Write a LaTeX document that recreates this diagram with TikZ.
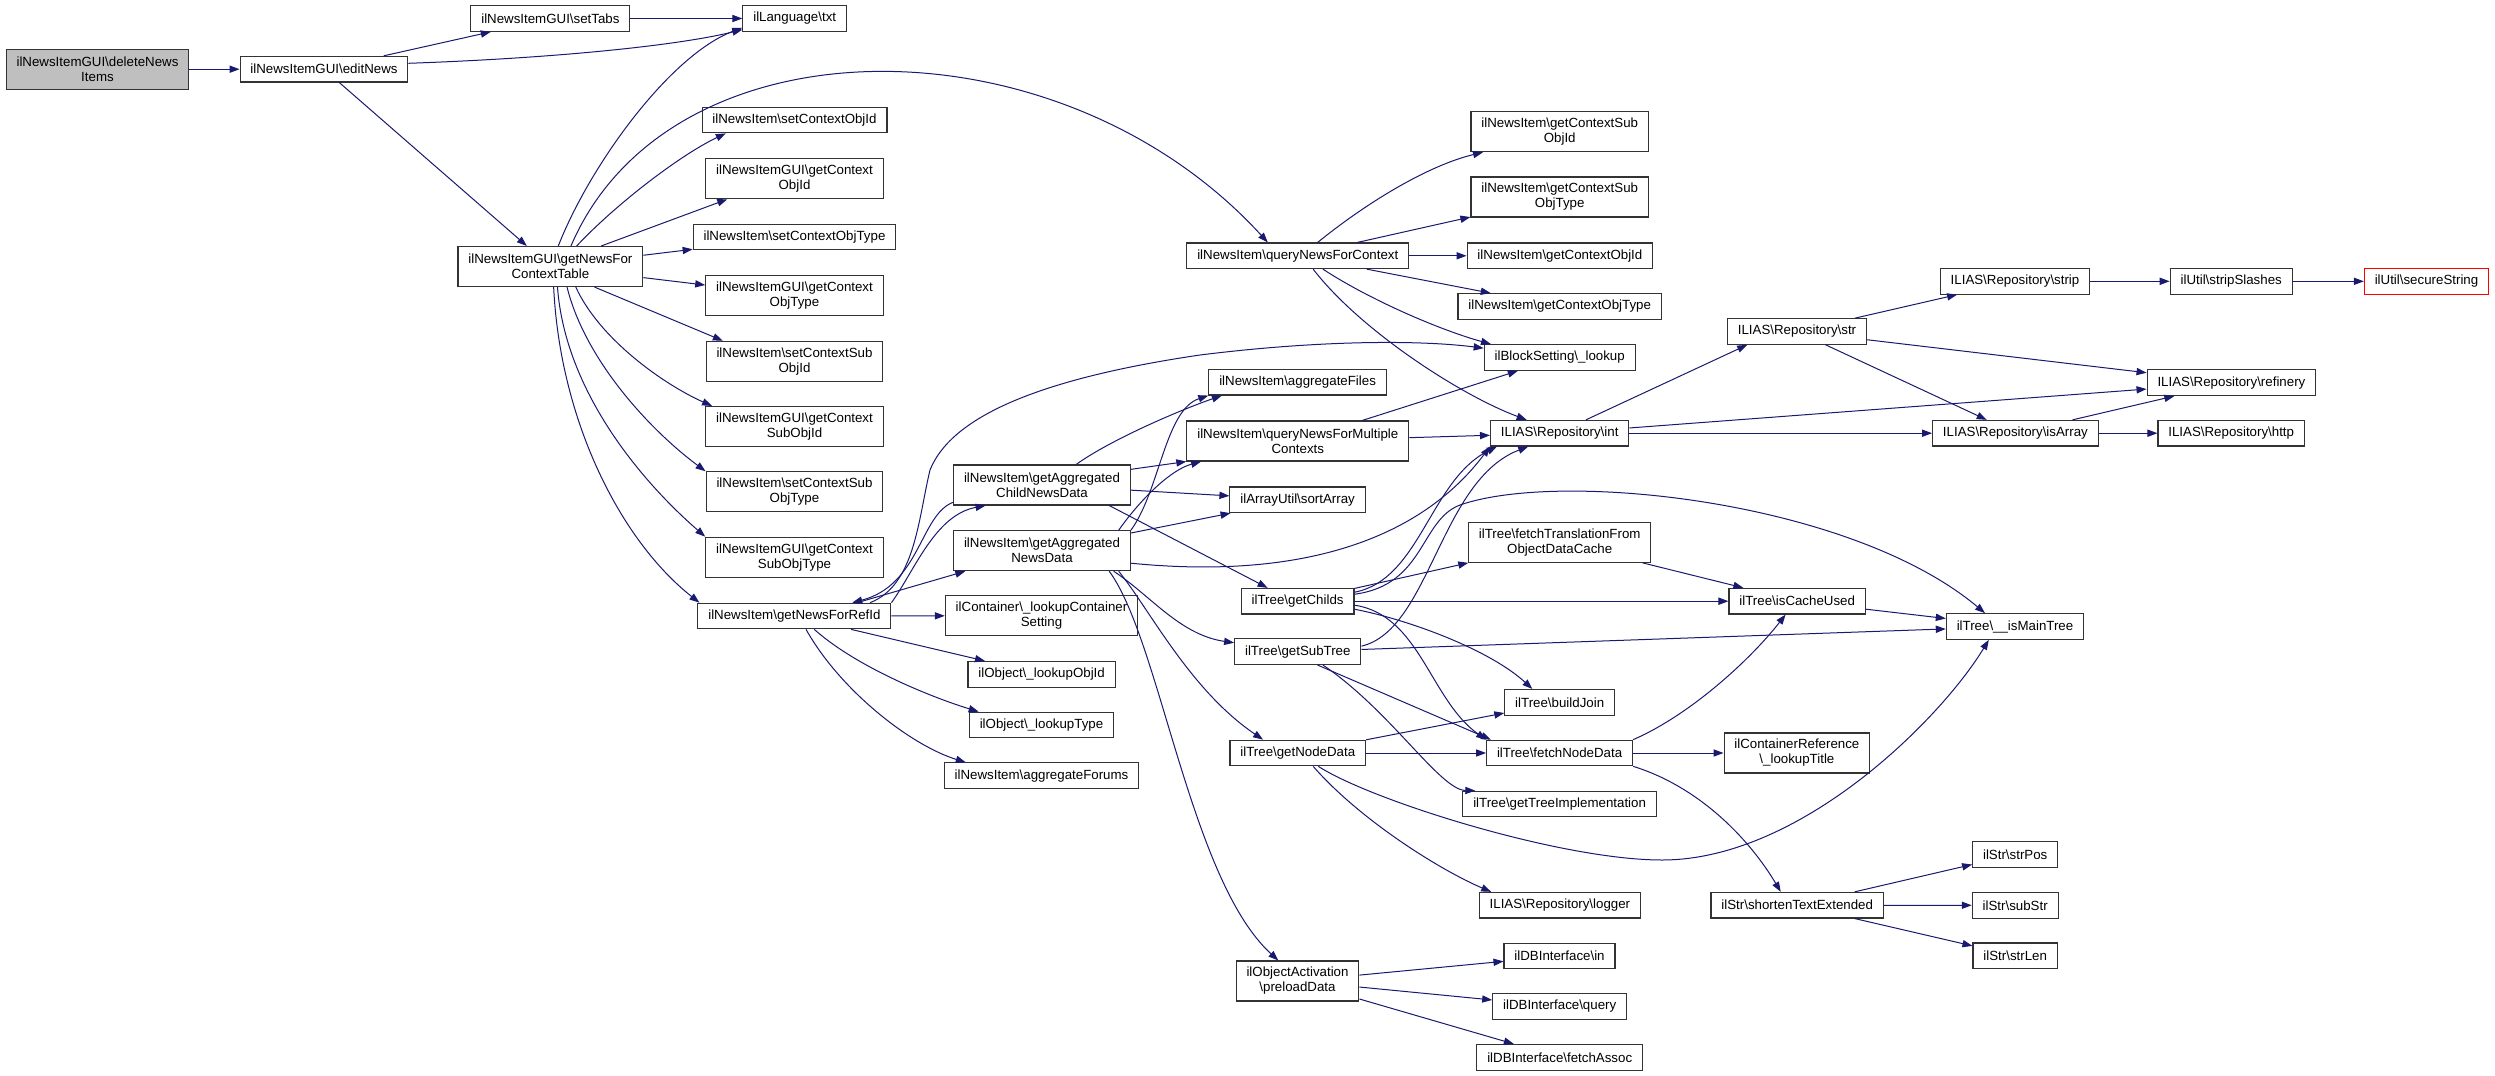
\documentclass[tikz,border=0pt]{standalone}
\usepackage{fontspec}
\setmainfont{Liberation Sans}
\usetikzlibrary{arrows.meta}
\definecolor{edgeblue}{RGB}{25,25,112}
\newcommand{\bks}{\textbackslash}
\tikzset{
	fnbox/.style={draw=black!80, fill=white, line width=0.55pt, inner xsep=5.2pt, inner ysep=0pt, minimum height=12.8pt, align=center, font=\fontsize{6.65}{7.5}\selectfont},
	fnbox2/.style={fnbox, minimum height=20pt},
	callto/.style={draw=edgeblue, line width=0.5pt, -{Triangle[length=5pt,width=3.6pt]}}
}

\begin{document}
\begin{tikzpicture}[x=0.5pt, y=-0.5pt]
			%%%%% START %%%%%
			\fill[white] (0,0) rectangle (2495,1076);
			\useasboundingbox (0,0) rectangle (2495,1076);
			
			\node[fnbox2, fill=black!25] (delNews) at (97.5,69.2) {ilNewsItemGUI\bks deleteNews\\Items};
			\node[fnbox] (editNews) at (324,69.2) {ilNewsItemGUI\bks editNews};
			
			\node[fnbox] (setTabs) at (550.4,18.5) {ilNewsItemGUI\bks setTabs};
			\node[fnbox2] (ctxTable) at (550.4,266.5) {ilNewsItemGUI\bks getNewsFor\\ContextTable};
			
			\node[fnbox] (txt) at (794.7,18.5) {ilLanguage\bks txt};
			\node[fnbox] (setObjId) at (794.5,120) {ilNewsItem\bks setContextObjId};
			\node[fnbox2] (guiObjId) at (794.5,178.7) {ilNewsItemGUI\bks getContext\\ObjId};
			\node[fnbox] (setObjType) at (794.5,237) {ilNewsItem\bks setContextObjType};
			\node[fnbox2] (guiObjType) at (794.5,295.7) {ilNewsItemGUI\bks getContext\\ObjType};
			\node[fnbox2] (setSubId) at (794.5,361.3) {ilNewsItem\bks setContextSub\\ObjId};
			\node[fnbox2] (guiSubId) at (794.5,426.5) {ilNewsItemGUI\bks getContext\\SubObjId};
			\node[fnbox2] (setSubType) at (794.5,491.8) {ilNewsItem\bks setContextSub\\ObjType};
			\node[fnbox2] (guiSubType) at (794.5,557.2) {ilNewsItemGUI\bks getContext\\SubObjType};
			\node[fnbox] (forRefId) at (794.4,616) {ilNewsItem\bks getNewsForRefId};
			
			\node[fnbox2] (aggChild) at (1042,485) {ilNewsItem\bks getAggregated\\ChildNewsData};
			\node[fnbox2] (aggNews) at (1042,550.7) {ilNewsItem\bks getAggregated\\NewsData};
			\node[fnbox2] (contSetting) at (1041.5,615.7) {ilContainer\bks\_lookupContainer\\Setting};
			\node[fnbox] (lookObjId) at (1041.6,674.3) {ilObject\bks\_lookupObjId};
			\node[fnbox] (lookType) at (1041.5,725) {ilObject\bks\_lookupType};
			\node[fnbox] (aggForums) at (1041.5,775.7) {ilNewsItem\bks aggregateForums};
			
			\node[fnbox] (queryCtx) at (1297.8,255.8) {ilNewsItem\bks queryNewsForContext};
			\node[fnbox] (aggFiles) at (1297.6,382.2) {ilNewsItem\bks aggregateFiles};
			\node[fnbox2] (queryMulti) at (1297.8,441) {ilNewsItem\bks queryNewsForMultiple\\Contexts};
			\node[fnbox] (sortArr) at (1297.6,499.8) {ilArrayUtil\bks sortArray};
			\node[fnbox] (getChilds) at (1297.6,601.2) {ilTree\bks getChilds};
			\node[fnbox] (getSubTree) at (1297.8,651.7) {ilTree\bks getSubTree};
			\node[fnbox] (getNodeData) at (1297.8,753) {ilTree\bks getNodeData};
			\node[fnbox2] (preload) at (1297.5,981) {ilObjectActivation\\\bks preloadData};
			
			\node[fnbox2] (subId) at (1559.7,131.7) {ilNewsItem\bks getContextSub\\ObjId};
			\node[fnbox2] (subType) at (1559.7,197) {ilNewsItem\bks getContextSub\\ObjType};
			\node[fnbox] (objId) at (1559.9,255.8) {ilNewsItem\bks getContextObjId};
			\node[fnbox] (objType) at (1559.7,306.5) {ilNewsItem\bks getContextObjType};
			\node[fnbox] (blockLook) at (1559.7,357.5) {ilBlockSetting\bks\_lookup};
			\node[fnbox] (repoInt) at (1559.7,433.2) {ILIAS\bks Repository\bks int};
			\node[fnbox2] (fetchTrans) at (1559.7,542.3) {ilTree\bks fetchTranslationFrom\\ObjectDataCache};
			\node[fnbox] (buildJoin) at (1559.7,702.3) {ilTree\bks buildJoin};
			\node[fnbox] (fetchNode) at (1559.6,753) {ilTree\bks fetchNodeData};
			\node[fnbox] (treeImpl) at (1559.6,804) {ilTree\bks getTreeImplementation};
			\node[fnbox] (logger) at (1559.9,905.2) {ILIAS\bks Repository\bks logger};
			\node[fnbox] (dbIn) at (1559.5,956) {ilDBInterface\bks in};
			\node[fnbox] (dbQuery) at (1559.7,1006.5) {ilDBInterface\bks query};
			\node[fnbox] (dbFetch) at (1559.7,1057.3) {ilDBInterface\bks fetchAssoc};
			
			\node[fnbox] (repoStr) at (1797,331.5) {ILIAS\bks Repository\bks str};
			\node[fnbox] (cacheUsed) at (1797.2,601.2) {ilTree\bks isCacheUsed};
			\node[fnbox2] (lookTitle) at (1796.9,753) {ilContainerReference\\\bks\_lookupTitle};
			\node[fnbox] (shorten) at (1797.2,905.2) {ilStr\bks shortenTextExtended};
			
			\node[fnbox] (repoStrip) at (2015,281.3) {ILIAS\bks Repository\bks strip};
			\node[fnbox] (isArray) at (2015.4,433.2) {ILIAS\bks Repository\bks isArray};
			\node[fnbox] (mainTree) at (2015,626.5) {ilTree\bks\_\_isMainTree};
			\node[fnbox] (strPos) at (2015.2,854.5) {ilStr\bks strPos};
			\node[fnbox] (subStr) at (2015.2,905.3) {ilStr\bks subStr};
			\node[fnbox] (strLen) at (2015.2,955.8) {ilStr\bks strLen};
			
			\node[fnbox] (stripSl) at (2231.2,281.3) {ilUtil\bks stripSlashes};
			\node[fnbox] (refinery) at (2231.4,382.7) {ILIAS\bks Repository\bks refinery};
			\node[fnbox] (http) at (2231.2,433.2) {ILIAS\bks Repository\bks http};
			\node[fnbox, draw=red] (secure) at (2426.5,281.3) {ilUtil\bks secureString};
			
			% calls of the first ranks
			\draw[callto] (delNews) -- (editNews);
			\draw[callto] (editNews) -- (setTabs);
			\draw[callto] (editNews.4) .. controls (560,58) and (680,45) .. (txt.192);
			\draw[callto] (editNews) -- (ctxTable);
			\draw[callto] (setTabs) -- (txt);
			\draw[callto] (ctxTable.69) .. controls (590,165) and (670,55) .. (txt.190);
			\draw[callto] (ctxTable.45) .. controls (670,15) and (1060,15) .. (queryCtx.156);
			\draw[callto] (ctxTable.38) .. controls (615,205) and (680,155) .. (setObjId.191);
			\draw[callto] (ctxTable.22) -- (guiObjId.197);
			\draw[callto] (ctxTable) -- (setObjType);
			\draw[callto] (ctxTable) -- (guiObjType);
			\draw[callto] (ctxTable.335) -- (setSubId.164);
			\draw[callto] (ctxTable.321) .. controls (600,340) and (665,385) .. (guiSubId.166);
			\draw[callto] (ctxTable.309) .. controls (585,360) and (650,430) .. (setSubType.167);
			\draw[callto] (ctxTable.289) .. controls (565,390) and (640,480) .. (guiSubType.north west);
			\draw[callto] (ctxTable.279) .. controls (560,420) and (620,540) .. (forRefId.172);
			
			% getNewsForRefId
			\draw[callto] (forRefId) -- (contSetting);
			\draw[callto] (forRefId) -- (lookObjId);
			\draw[callto] (forRefId.326) .. controls (860,670) and (940,700) .. (lookType.168);
			\draw[callto] (forRefId.311) .. controls (840,690) and (910,745) .. (aggForums.170);
			\draw[callto] (forRefId.north east) .. controls (915,570) and (935,515) .. (aggChild.200);
			\draw[callto] (aggChild.191) .. controls (920,515) and (920,585) .. (forRefId.13);
			\draw[callto] (forRefId.10.5) .. controls (915,585) and (918,520) .. (930,470) .. controls (950,420) and (1030,380) .. (1200,355) .. controls (1320,340) and (1420,340) .. (blockLook.173);
			\draw[callto] (forRefId.12) -- (aggNews.195);
			
			% aggregated news
			\draw[callto] (aggChild.10) -- (queryMulti.south west);
			\draw[callto] (aggChild.31) .. controls (1110,440) and (1180,410) .. (aggFiles.190);
			\draw[callto] (aggChild) -- (sortArr);
			\draw[callto] (aggChild.343) -- (getChilds.156);
			\draw[callto] (aggNews.15) .. controls (1140,500) and (1170,470) .. (queryMulti.192);
			\draw[callto] (aggNews.13) .. controls (1160,490) and (1165,410) .. (aggFiles.south west);
			\draw[callto] (aggNews) -- (sortArr);
			\draw[callto] (aggNews.352) .. controls (1300,580) and (1420,540) .. (repoInt.south west);
			\draw[callto] (aggNews.344) .. controls (1150,595) and (1180,635) .. (getSubTree.172);
			\draw[callto] (aggNews.345) .. controls (1150,610) and (1190,690) .. (getNodeData.159);
			\draw[callto] (aggNews.343) .. controls (1160,640) and (1190,880) .. (preload.133);
			
			% queries
			\draw[callto] (queryCtx.34) .. controls (1370,200) and (1430,165) .. (subId.195);
			\draw[callto] (queryCtx) -- (subType);
			\draw[callto] (queryCtx) -- (objId);
			\draw[callto] (queryCtx) -- (objType);
			\draw[callto] (queryCtx.332) .. controls (1370,300) and (1440,330) .. (blockLook.169);
			\draw[callto] (queryCtx.319) .. controls (1360,330) and (1460,395) .. (repoInt.158);
			\draw[callto] (queryMulti) -- (repoInt);
			\draw[callto] (queryMulti) -- (blockLook);
			
			% tree
			\draw[callto] (getChilds) -- (fetchTrans);
			\draw[callto] (getChilds) -- (cacheUsed);
			\draw[callto] (getChilds.9) .. controls (1420,580) and (1430,480) .. (repoInt.192);
			\draw[callto] (getChilds.7) .. controls (1425,585) and (1420,520) .. (1460,505) .. controls (1560,470) and (1850,500) .. (mainTree.156);
			\draw[callto] (getChilds.352) .. controls (1410,620) and (1490,650) .. (buildJoin.154);
			\draw[callto] (getChilds.356) .. controls (1420,615) and (1430,700) .. (fetchNode.north west);
			\draw[callto] (getSubTree.5) .. controls (1430,630) and (1440,480) .. (repoInt.203);
			\draw[callto] (getSubTree.326) -- (fetchNode.169);
			\draw[callto] (getSubTree.332) .. controls (1390,710) and (1440,790) .. (treeImpl.171);
			\draw[callto] (getSubTree) -- (mainTree);
			\draw[callto] (getNodeData) -- (buildJoin);
			\draw[callto] (getNodeData) -- (fetchNode);
			\draw[callto] (getNodeData.319) .. controls (1360,820) and (1440,870) .. (logger.169);
			\draw[callto] (getNodeData.327) .. controls (1370,800) and (1560,860) .. (1662,860) .. controls (1800,860) and (1940,720) .. (mainTree.207);
			\draw[callto] (fetchTrans) -- (cacheUsed);
			\draw[callto] (fetchNode.north east) .. controls (1690,715) and (1750,660) .. (cacheUsed.229);
			\draw[callto] (fetchNode) -- (lookTitle);
			\draw[callto] (fetchNode.south east) .. controls (1700,787) and (1750,840) .. (shorten.141);
			\draw[callto] (cacheUsed) -- (mainTree);
			
			% repository
			\draw[callto] (repoInt.27) -- (repoStr.195);
			\draw[callto] (repoInt) -- (refinery);
			\draw[callto] (repoInt) -- (isArray);
			\draw[callto] (repoStr) -- (repoStrip);
			\draw[callto] (repoStr) -- (refinery);
			\draw[callto] (repoStr) -- (isArray);
			\draw[callto] (repoStrip) -- (stripSl);
			\draw[callto] (stripSl) -- (secure);
			\draw[callto] (isArray) -- (refinery);
			\draw[callto] (isArray) -- (http);
			
			% strings and db
			\draw[callto] (shorten) -- (strPos);
			\draw[callto] (shorten) -- (subStr);
			\draw[callto] (shorten) -- (strLen);
			\draw[callto] (preload) -- (dbIn);
			\draw[callto] (preload) -- (dbQuery);
			\draw[callto] (preload) -- (dbFetch);
			
			%%%%% END %%%%%
\end{tikzpicture}
\end{document}
